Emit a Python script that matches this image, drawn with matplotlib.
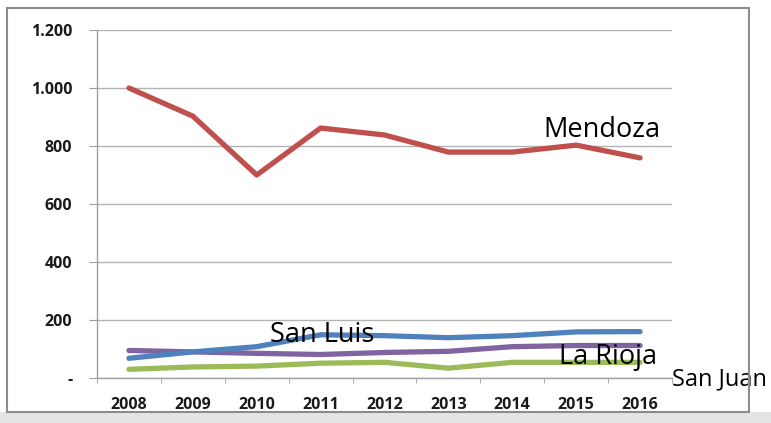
import matplotlib.pyplot as plt
from matplotlib.patches import Rectangle
from matplotlib.ticker import FixedLocator

years = ['2008', '2009', '2010', '2011', '2012', '2013', '2014', '2015', '2016']
mendoza = [1000, 903, 700, 862, 838, 779, 779, 803, 759]
san_luis = [68, 90, 108, 149, 146, 139, 146, 159, 160]
la_rioja = [95, 90, 85, 81, 88, 92, 108, 112, 112]
san_juan = [30, 38, 41, 51, 54, 34, 54, 54, 54]
y_ticks = [0, 200, 400, 600, 800, 1000, 1200]
y_labels = ['-', '200', '400', '600', '800', '1.000', '1.200']

W, H = 771, 423
fig = plt.figure(figsize=(W / 100, H / 100), dpi=100)

# grey strip at the bottom and outer frame (frame line drawn on top)
fig.patches.append(Rectangle((0, 0), 1, 11 / H, transform=fig.transFigure,
                             facecolor='#e4e4e4', edgecolor='none', zorder=-2))
fig.patches.append(Rectangle((7 / W, 11 / H), (749 - 7) / W, (415 - 11) / H,
                             transform=fig.transFigure, facecolor='none',
                             edgecolor='#8c8c8c', linewidth=1.5, zorder=10))

ax = fig.add_axes([97 / W, (H - 378) / H, (672 - 97) / W, (378 - 30) / H])
ax.set_facecolor('none')

x = range(len(years))
lw = 3.8
ax.plot(x, san_juan, color='#9BBB59', lw=lw, solid_capstyle='round', zorder=3)
ax.plot(x, la_rioja, color='#8064A2', lw=lw, solid_capstyle='round', zorder=3)
ax.plot(x, san_luis, color='#4F81BD', lw=lw, solid_capstyle='round', zorder=3)
ax.plot(x, mendoza, color='#C0504D', lw=lw, solid_capstyle='round', zorder=3)

ax.set_xlim(-0.5, len(years) - 0.5)
ax.set_ylim(0, 1200)

ax.set_xticks(list(x))
ax.set_xticklabels(years)
ax.xaxis.set_minor_locator(FixedLocator([i - 0.5 for i in range(len(years) + 1)]))
ax.tick_params(axis='x', which='major', length=0, pad=14)
ax.tick_params(axis='x', which='minor', length=3.6, color='#a0a0a0', direction='out')

ax.set_yticks(y_ticks)
ax.set_yticklabels(y_labels)
ax.tick_params(axis='y', length=5.8, color='#a0a0a0', pad=12)

for lab in ax.get_xticklabels() + ax.get_yticklabels():
    lab.set_fontfamily('Open Sans')
    lab.set_fontweight('bold')
    lab.set_fontsize(11.5)
    lab.set_color('#1a1a1a')

ax.grid(axis='y', color='#b4b4b4', linewidth=1)
ax.set_axisbelow(True)
for side in ['top', 'right']:
    ax.spines[side].set_visible(False)
for side in ['left', 'bottom']:
    ax.spines[side].set_color('#a0a0a0')
    ax.spines[side].set_linewidth(1)

font = dict(family='Open Sans', color='black', clip_on=False, zorder=5)
ax.text(7.4, 855, 'Mendoza', fontsize=19.5, ha='center', va='center', **font)
ax.text(3.03, 150, 'San Luis', fontsize=19.5, ha='center', va='center', **font)
ax.text(7.5, 72, 'La Rioja', fontsize=19.5, ha='center', va='center', **font)
ax.text(8.5, -5, 'San Juan', fontsize=17, ha='left', va='center', **font)

fig.savefig('out.png', dpi=100)
